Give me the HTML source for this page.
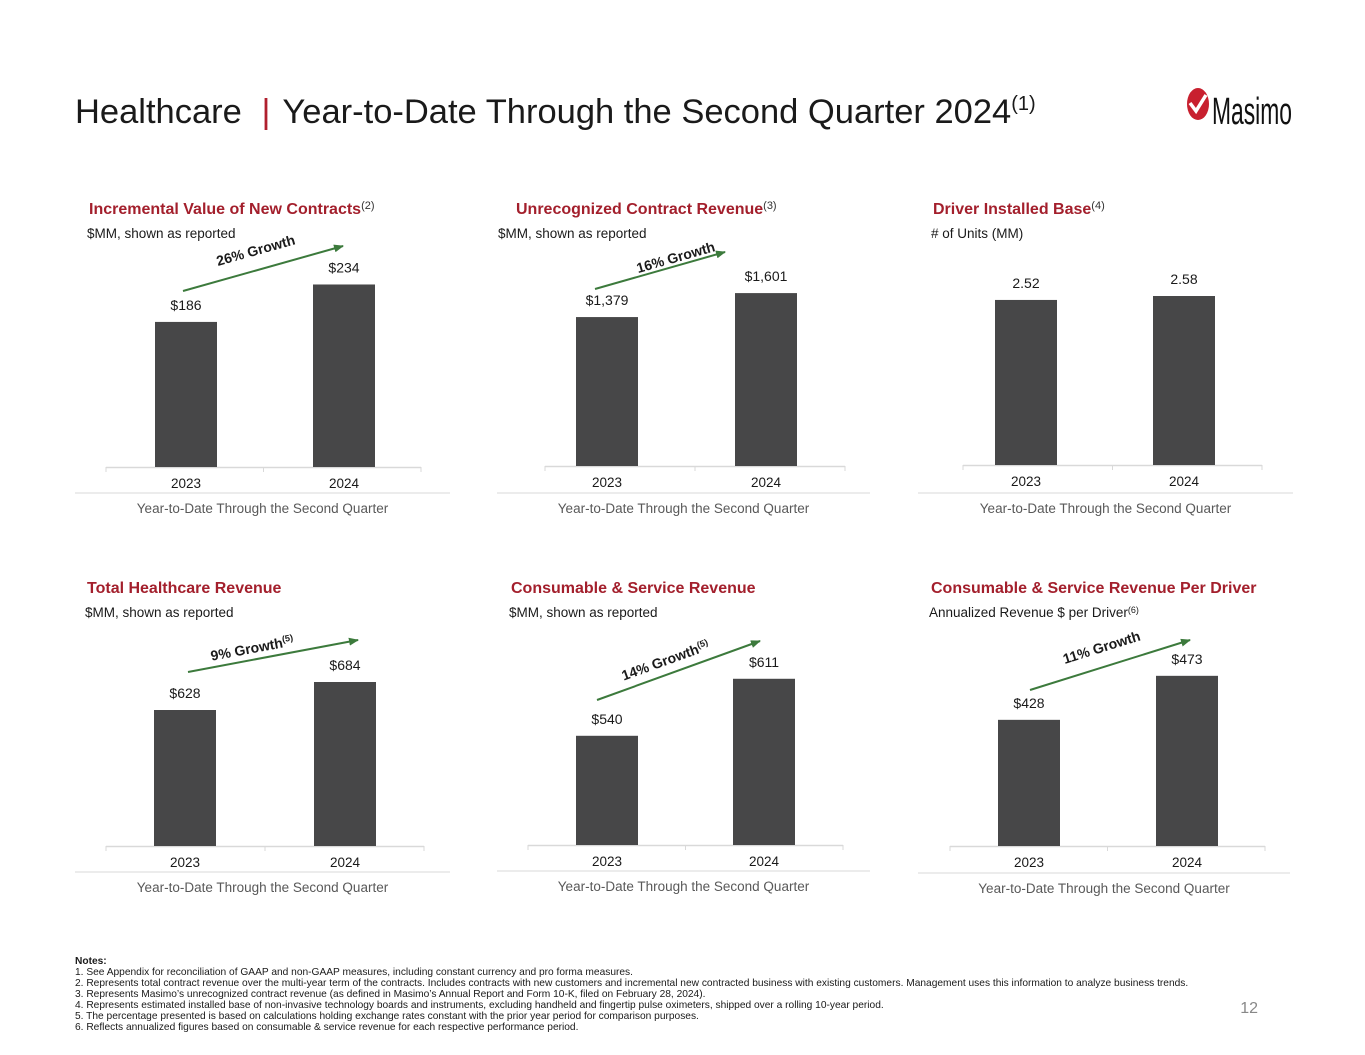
<!DOCTYPE html>
<html><head><meta charset="utf-8"><style>
body{margin:0;background:#fff;}
svg{display:block;font-family:"Liberation Sans",Arial,sans-serif;}
</style></head><body>
<svg id="s" width="1365" height="1055" viewBox="0 0 1365 1055">
<defs><marker id="ah" markerWidth="10" markerHeight="8" refX="9" refY="4" orient="auto" markerUnits="userSpaceOnUse"><path d="M0,0 L10,4 L0,8 z" fill="#3c7a3c"/></marker></defs>
<text x="75" y="123" font-size="34.5" fill="#1a1a1a">Healthcare <tspan fill="#b01f2e" dx="10">|</tspan><tspan dx="12">Year-to-Date Through the Second Quarter 2024</tspan><tspan font-size="20" dy="-13">(1)</tspan></text>
<g>
<ellipse cx="1198" cy="104" rx="11" ry="16" fill="#c8202f"/>
<path d="M1190,103 L1196,111 L1206,95" stroke="#fff" stroke-width="3.5" fill="none"/>
<text x="1212" y="124" font-size="38" fill="#111" textLength="80" lengthAdjust="spacingAndGlyphs">Masimo</text>
</g>
<g id="charts"></g>
<g font-size="10.2" fill="#1a1a1a">
<text x="75" y="964" font-weight="bold">Notes:</text>
<text x="75" y="975">1.  See Appendix for reconciliation of GAAP and non-GAAP measures, including constant currency and pro forma measures.</text>
<text x="75" y="986">2.  Represents total contract revenue over the multi-year term of the contracts.  Includes contracts with new customers and incremental new contracted business with existing customers. Management uses this information to analyze business trends.</text>
<text x="75" y="997">3.  Represents Masimo’s unrecognized contract revenue (as defined in Masimo’s Annual Report and Form 10-K, filed on February 28, 2024).</text>
<text x="75" y="1008">4.  Represents estimated installed base of non-invasive technology boards and instruments, excluding handheld and fingertip pulse oximeters, shipped over a rolling 10-year period.</text>
<text x="75" y="1019">5.  The percentage presented is based on calculations holding exchange rates constant with the prior year period for comparison purposes.</text>
<text x="75" y="1030">6.  Reflects annualized figures based on consumable &amp; service revenue for each respective performance period.</text>
</g>
<text x="1258" y="1013" font-size="16" fill="#888" text-anchor="end">12</text>
</svg>
<script>
const categories = ["2023","2024"];
const seriesContracts = [186,234];
const seriesUnrecognized = [1379,1601];
const seriesInstalled = [2.52,2.58];
const seriesTotalRev = [628,684];
const seriesConsumable = [540,611];
const seriesPerDriver = [428,473];
const valueLabelsContracts = ["$186","$234"];
const valueLabelsUnrecognized = ["$1,379","$1,601"];
const valueLabelsInstalled = ["2.52","2.58"];
const valueLabelsTotalRev = ["$628","$684"];
const valueLabelsConsumable = ["$540","$611"];
const valueLabelsPerDriver = ["$428","$473"];
const growthLabels = ["26% Growth","16% Growth","","9% Growth","14% Growth","11% Growth"];

const panels = [
 {name:"contracts",title:"Incremental Value of New Contracts",sup:"(2)",sub:"$MM, shown as reported",tx:89,ty:214,vals:seriesContracts,lbl:valueLabelsContracts,base:467,ax0:106,ax1:421,bx:[155,313],k:0.78,m:0,line:[75,450],lineY:493,g:growthLabels[0],gs:"",ar:[183,291,343,246],gc:[257,255]},
 {name:"unrecognized",title:"Unrecognized Contract Revenue",sup:"(3)",sub:"$MM, shown as reported",tx:516,ty:214,sx:498,vals:seriesUnrecognized,lbl:valueLabelsUnrecognized,base:466,ax0:545,ax1:845,bx:[576,735],k:0.108,m:0,line:[497,870],lineY:493,g:growthLabels[1],gs:"",ar:[595,289,725,252],gc:[677,262]},
 {name:"installed",title:"Driver Installed Base",sup:"(4)",sub:"# of Units (MM)",tx:933,ty:214,vals:seriesInstalled,lbl:valueLabelsInstalled,base:465,ax0:963,ax1:1262,bx:[995,1153],k:65.5,m:0,line:[918,1293],lineY:493,g:"",ar:null},
 {name:"total-revenue",title:"Total Healthcare Revenue",sup:"",sub:"$MM, shown as reported",tx:87,ty:593,vals:seriesTotalRev,lbl:valueLabelsTotalRev,base:846,ax0:106,ax1:424,bx:[154,314],k:0.5,m:356,line:[75,450],lineY:872,g:growthLabels[3],gs:"(5)",ar:[188,672,358,640],gc:[253,653]},
 {name:"consumable",title:"Consumable & Service Revenue",sup:"",sub:"$MM, shown as reported",tx:511,ty:593,vals:seriesConsumable,lbl:valueLabelsConsumable,base:845,ax0:528,ax1:843,bx:[576,733],k:0.803,m:404,line:[497,870],lineY:871,g:growthLabels[4],gs:"(5)",ar:[597,700,760,641],gc:[667,665]},
 {name:"per-driver",title:"Consumable & Service Revenue Per Driver",sup:"",sub:"Annualized Revenue $ per Driver",subsup:"(6)",tx:931,ty:593,vals:seriesPerDriver,lbl:valueLabelsPerDriver,base:846,ax0:950,ax1:1265,bx:[998,1156],k:0.978,m:299,line:[918,1290],lineY:873,g:growthLabels[5],gs:"",ar:[1030,690,1190,640],gc:[1103,652]}
];
const NS="http://www.w3.org/2000/svg";
const root=document.getElementById("charts");
function el(tag,attrs,parent,text){const e=document.createElementNS(NS,tag);for(const a in attrs)e.setAttribute(a,attrs[a]);if(text!==undefined)e.textContent=text;parent.appendChild(e);return e;}
panels.forEach(p=>{
 const g=el("g",{},root);
 
 
 const t=el("text",{x:p.tx,y:p.ty,"font-size":16,"font-weight":"bold",fill:"#a31f2c"},g,p.title);
 
 
 if(p.sup){el("tspan",{"font-size":11,"font-weight":"normal",fill:"#333",dy:-5},t,p.sup);}
 const s=el("text",{x:(p.sx||p.tx)-(p.sx?0:2),y:p.ty+24,"font-size":13.5,fill:"#1a1a1a"},g,p.sub);
 
 
 if(p.subsup){el("tspan",{"font-size":9,dy:-4},s,p.subsup);}
 const y=v=>p.base-(v-p.m)*p.k;
 const ax=el("line",{x1:p.ax0,x2:p.ax1,y1:p.base+0.5,y2:p.base+0.5,stroke:"#d9d9d9","stroke-width":1.5},g);
 
 
 const mid=(p.ax0+p.ax1)/2;
 [p.ax0,mid,p.ax1].forEach(x=>el("line",{x1:x,x2:x,y1:p.base,y2:p.base+5,stroke:"#d9d9d9"},g));
 p.vals.forEach((v,i)=>{
  const top=y(v);
  const b=el("rect",{x:p.bx[i],y:top,width:62,height:p.base-top,fill:"#474748"},g);
  
  
  const cx=p.bx[i]+31;
  const vl=el("text",{x:cx,y:top-12,"font-size":14,"text-anchor":"middle",fill:"#1a1a1a"},g,p.lbl[i]);
  
  
  const cl=el("text",{x:cx,y:p.base+21,"font-size":13.5,"text-anchor":"middle",fill:"#1a1a1a"},g,categories[i]);
  
  
 });
 el("line",{x1:p.line[0],x2:p.line[1],y1:p.lineY,y2:p.lineY,stroke:"#d9d9d9"},g);
 const xt=el("text",{x:(p.line[0]+p.line[1])/2,y:p.lineY+20,"font-size":13.5,"text-anchor":"middle",fill:"#595959"},g,"Year-to-Date Through the Second Quarter");
 
 
 if(p.ar){
  const a=el("line",{x1:p.ar[0],y1:p.ar[1],x2:p.ar[2],y2:p.ar[3],stroke:"#3c7a3c","stroke-width":2,"marker-end":"url(#ah)"},g);
  
  
  const ang=Math.atan2(p.ar[3]-p.ar[1],p.ar[2]-p.ar[0])*180/Math.PI;
  const gt=el("text",{x:p.gc[0],y:p.gc[1],"font-size":14,"font-weight":"bold","text-anchor":"middle",fill:"#1a1a1a",transform:`rotate(${ang} ${p.gc[0]} ${p.gc[1]})`},g,p.g);
  
  
  if(p.gs){el("tspan",{"font-size":9,dy:-5},gt,p.gs);}
 }
});
</script>
</body></html>
